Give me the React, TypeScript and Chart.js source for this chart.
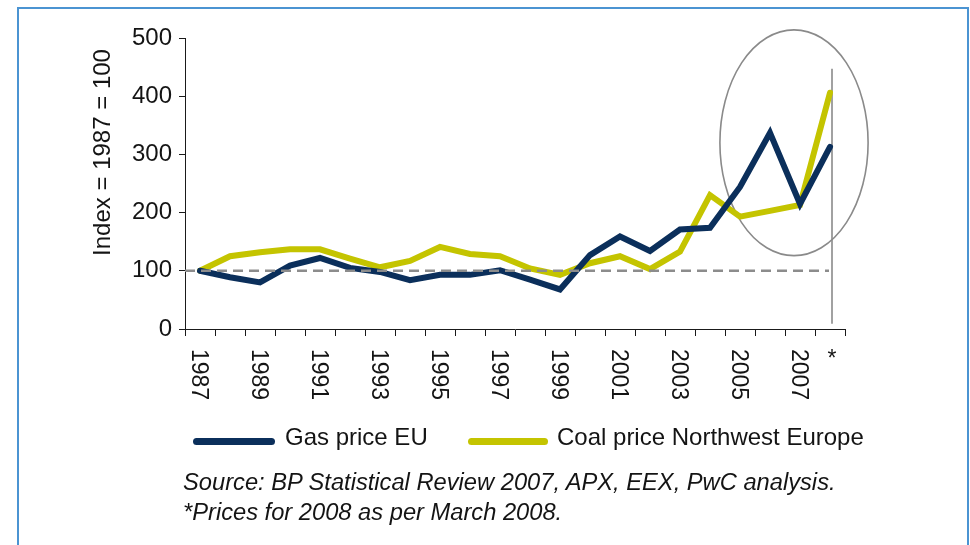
import React, { useEffect, useRef } from 'react';
import { Chart, registerables } from 'chart.js';

Chart.register(...registerables);

// ---- data ----
const years = [
  '1987', '1988', '1989', '1990', '1991', '1992', '1993', '1994', '1995', '1996', '1997',
  '1998', '1999', '2000', '2001', '2002', '2003', '2004', '2005', '2006', '2007', '2008',
];
const tickLabels = [
  '1987', '', '1989', '', '1991', '', '1993', '', '1995', '', '1997',
  '', '1999', '', '2001', '', '2003', '', '2005', '', '2007', '*',
];
const gasPrice = [100, 89, 80, 109, 122, 105, 98, 84, 93, 93, 101, 85, 68, 127, 159, 134, 171, 174, 244, 337, 215, 313];
const coalPrice = [100, 125, 132, 137, 137, 121, 106, 117, 141, 129, 125, 104, 93, 113, 125, 103, 133, 230, 193, 203, 213, 406];
const yMin = 0;
const yMax = 500;
const yStep = 100;
const baselineValue = 100;
const yAxisTitle = 'Index = 1987 = 100';
const seriesNames = ['Gas price EU', 'Coal price Northwest Europe'];
const sourceLines = [
  'Source: BP Statistical Review 2007, APX, EEX, PwC analysis.',
  '*Prices for 2008 as per March 2008.',
];
// highlight ellipse (in data units: category index / index value)
const ellipseCenter = { index: 19.8, value: 320 };
const ellipseRadius = { index: 2.47, value: 194 };
const markerLine = { index: 21, from: 447, to: 9 };

const FONT = '"Liberation Sans", Arial, Helvetica, sans-serif';
const NAVY = '#0b2f5b';
const OLIVE = '#c4c400';
const GREY = '#8a8a8a';
const TEXT = '#141414';

const annotationPlugin = {
  id: 'annotations',
  beforeDatasetsDraw(chart: any) {
    const { ctx, scales } = chart;
    const x = scales.x;
    const y = scales.y;
    ctx.save();
    // ellipse
    const cx = x.getPixelForValue(ellipseCenter.index);
    const cy = y.getPixelForValue(ellipseCenter.value);
    const rx = x.getPixelForValue(ellipseCenter.index + ellipseRadius.index) - cx;
    const ry = y.getPixelForValue(ellipseCenter.value - ellipseRadius.value) - cy;
    ctx.strokeStyle = GREY;
    ctx.lineWidth = 1.6;
    ctx.beginPath();
    ctx.ellipse(cx, cy, rx, ry, 0, 0, Math.PI * 2);
    ctx.stroke();
    // vertical marker line
    const lx = x.getPixelForValue(markerLine.index) + 2;
    ctx.beginPath();
    ctx.moveTo(lx, y.getPixelForValue(markerLine.from));
    ctx.lineTo(lx, y.getPixelForValue(markerLine.to));
    ctx.stroke();
    ctx.restore();
  },
  afterDatasetsDraw(chart: any) {
    const { ctx, chartArea, scales } = chart;
    const x = scales.x;
    const y = scales.y;
    ctx.save();
    const yb = y.getPixelForValue(baselineValue);
    ctx.strokeStyle = '#8c8c8c';
    ctx.lineWidth = 2.5;
    ctx.setLineDash([10, 6]);
    ctx.beginPath();
    ctx.moveTo(chartArea.left, yb);
    ctx.lineTo(x.getPixelForValue(markerLine.index) - 1, yb);
    ctx.stroke();
    ctx.restore();
  },
  afterDraw(chart: any) {
    const { ctx, chartArea, scales } = chart;
    const x = scales.x;
    ctx.save();
    ctx.fillStyle = TEXT;
    // x labels, rotated clockwise
    ctx.font = `23px ${FONT}`;
    tickLabels.forEach((lab, i) => {
      if (!lab) return;
      const px = x.getPixelForValue(i);
      if (lab === '*') {
        ctx.textAlign = 'center';
        ctx.textBaseline = 'alphabetic';
        ctx.fillText(lab, px + 2, chartArea.bottom + 37);
      } else {
        ctx.save();
        ctx.translate(px - 2, chartArea.bottom + 20);
        ctx.rotate(Math.PI / 2);
        ctx.textAlign = 'left';
        ctx.textBaseline = 'middle';
        ctx.fillText(lab, 0, 0);
        ctx.restore();
      }
    });
    // y axis title
    ctx.font = `24px ${FONT}`;
    ctx.save();
    ctx.translate(110, 152.5);
    ctx.rotate(-Math.PI / 2);
    ctx.textAlign = 'center';
    ctx.textBaseline = 'alphabetic';
    ctx.fillText(yAxisTitle, 0, 0);
    ctx.restore();
    ctx.restore();
  },
};

function LineChart() {
  const ref = useRef<HTMLCanvasElement | null>(null);
  useEffect(() => {
    if (!ref.current) return;
    const chart = new Chart(ref.current, {
      type: 'line',
      data: {
        labels: years,
        datasets: [
          {
            label: seriesNames[0],
            data: gasPrice,
            borderColor: NAVY,
            backgroundColor: NAVY,
            borderWidth: 6,
            pointRadius: 0,
            tension: 0,
            borderCapStyle: 'round',
            borderJoinStyle: 'miter',
          },
          {
            label: seriesNames[1],
            data: coalPrice,
            borderColor: OLIVE,
            backgroundColor: OLIVE,
            borderWidth: 6,
            pointRadius: 0,
            tension: 0,
            borderCapStyle: 'round',
            borderJoinStyle: 'miter',
          },
        ],
      },
      options: {
        responsive: false,
        maintainAspectRatio: false,
        animation: false,
        layout: { padding: { left: 0, top: 38, right: 125, bottom: 0 } },
        plugins: { legend: { display: false }, tooltip: { enabled: false } },
        scales: {
          x: {
            offset: true,
            grid: { offset: true, drawOnChartArea: false, drawTicks: true, tickLength: 7, color: '#1a1a1a' },
            border: { color: '#1a1a1a', width: 1 },
            ticks: { display: false, autoSkip: false },
            afterFit: (s: any) => { s.height = 216; },
          },
          y: {
            min: yMin,
            max: yMax,
            grid: { drawOnChartArea: false, drawTicks: true, tickLength: 6, color: '#1a1a1a' },
            border: { color: '#1a1a1a', width: 1 },
            ticks: { stepSize: yStep, padding: 7, color: TEXT, font: { family: FONT, size: 24 } },
            afterFit: (s: any) => { s.width = 185; },
          },
        },
      },
      plugins: [annotationPlugin],
    } as any);
    return () => chart.destroy();
  }, []);
  return (
    <canvas
      ref={ref}
      width={970}
      height={545}
      style={{ position: 'absolute', left: 0, top: 0, width: 970, height: 545 }}
    />
  );
}

export default function App() {
  const textBase: React.CSSProperties = {
    position: 'absolute',
    fontFamily: FONT,
    color: TEXT,
    whiteSpace: 'nowrap',
    margin: 0,
  };
  return (
    <div style={{ position: 'absolute', left: 0, top: 0, width: 970, height: 545, overflow: 'hidden', background: '#fff' }}>
      <div
        style={{
          position: 'absolute', left: 17, top: 7, width: 952, height: 600,
          border: '2px solid #4b94d2', boxSizing: 'border-box',
        }}
      />
      <LineChart />
      <div style={{ position: 'absolute', left: 193, top: 437.5, width: 82, height: 7, borderRadius: 3.5, background: NAVY }} />
      <div style={{ ...textBase, left: 285, top: 425, fontSize: 24, lineHeight: '24px' }}>{seriesNames[0]}</div>
      <div style={{ position: 'absolute', left: 468, top: 437.5, width: 80, height: 7, borderRadius: 3.5, background: OLIVE }} />
      <div style={{ ...textBase, left: 557, top: 425, fontSize: 24, lineHeight: '24px' }}>{seriesNames[1]}</div>
      <div style={{ ...textBase, left: 183, top: 467, fontSize: 23.7, lineHeight: '30px', fontStyle: 'italic' }}>
        {sourceLines.map((l, i) => (
          <div key={i}>{l}</div>
        ))}
      </div>
    </div>
  );
}
